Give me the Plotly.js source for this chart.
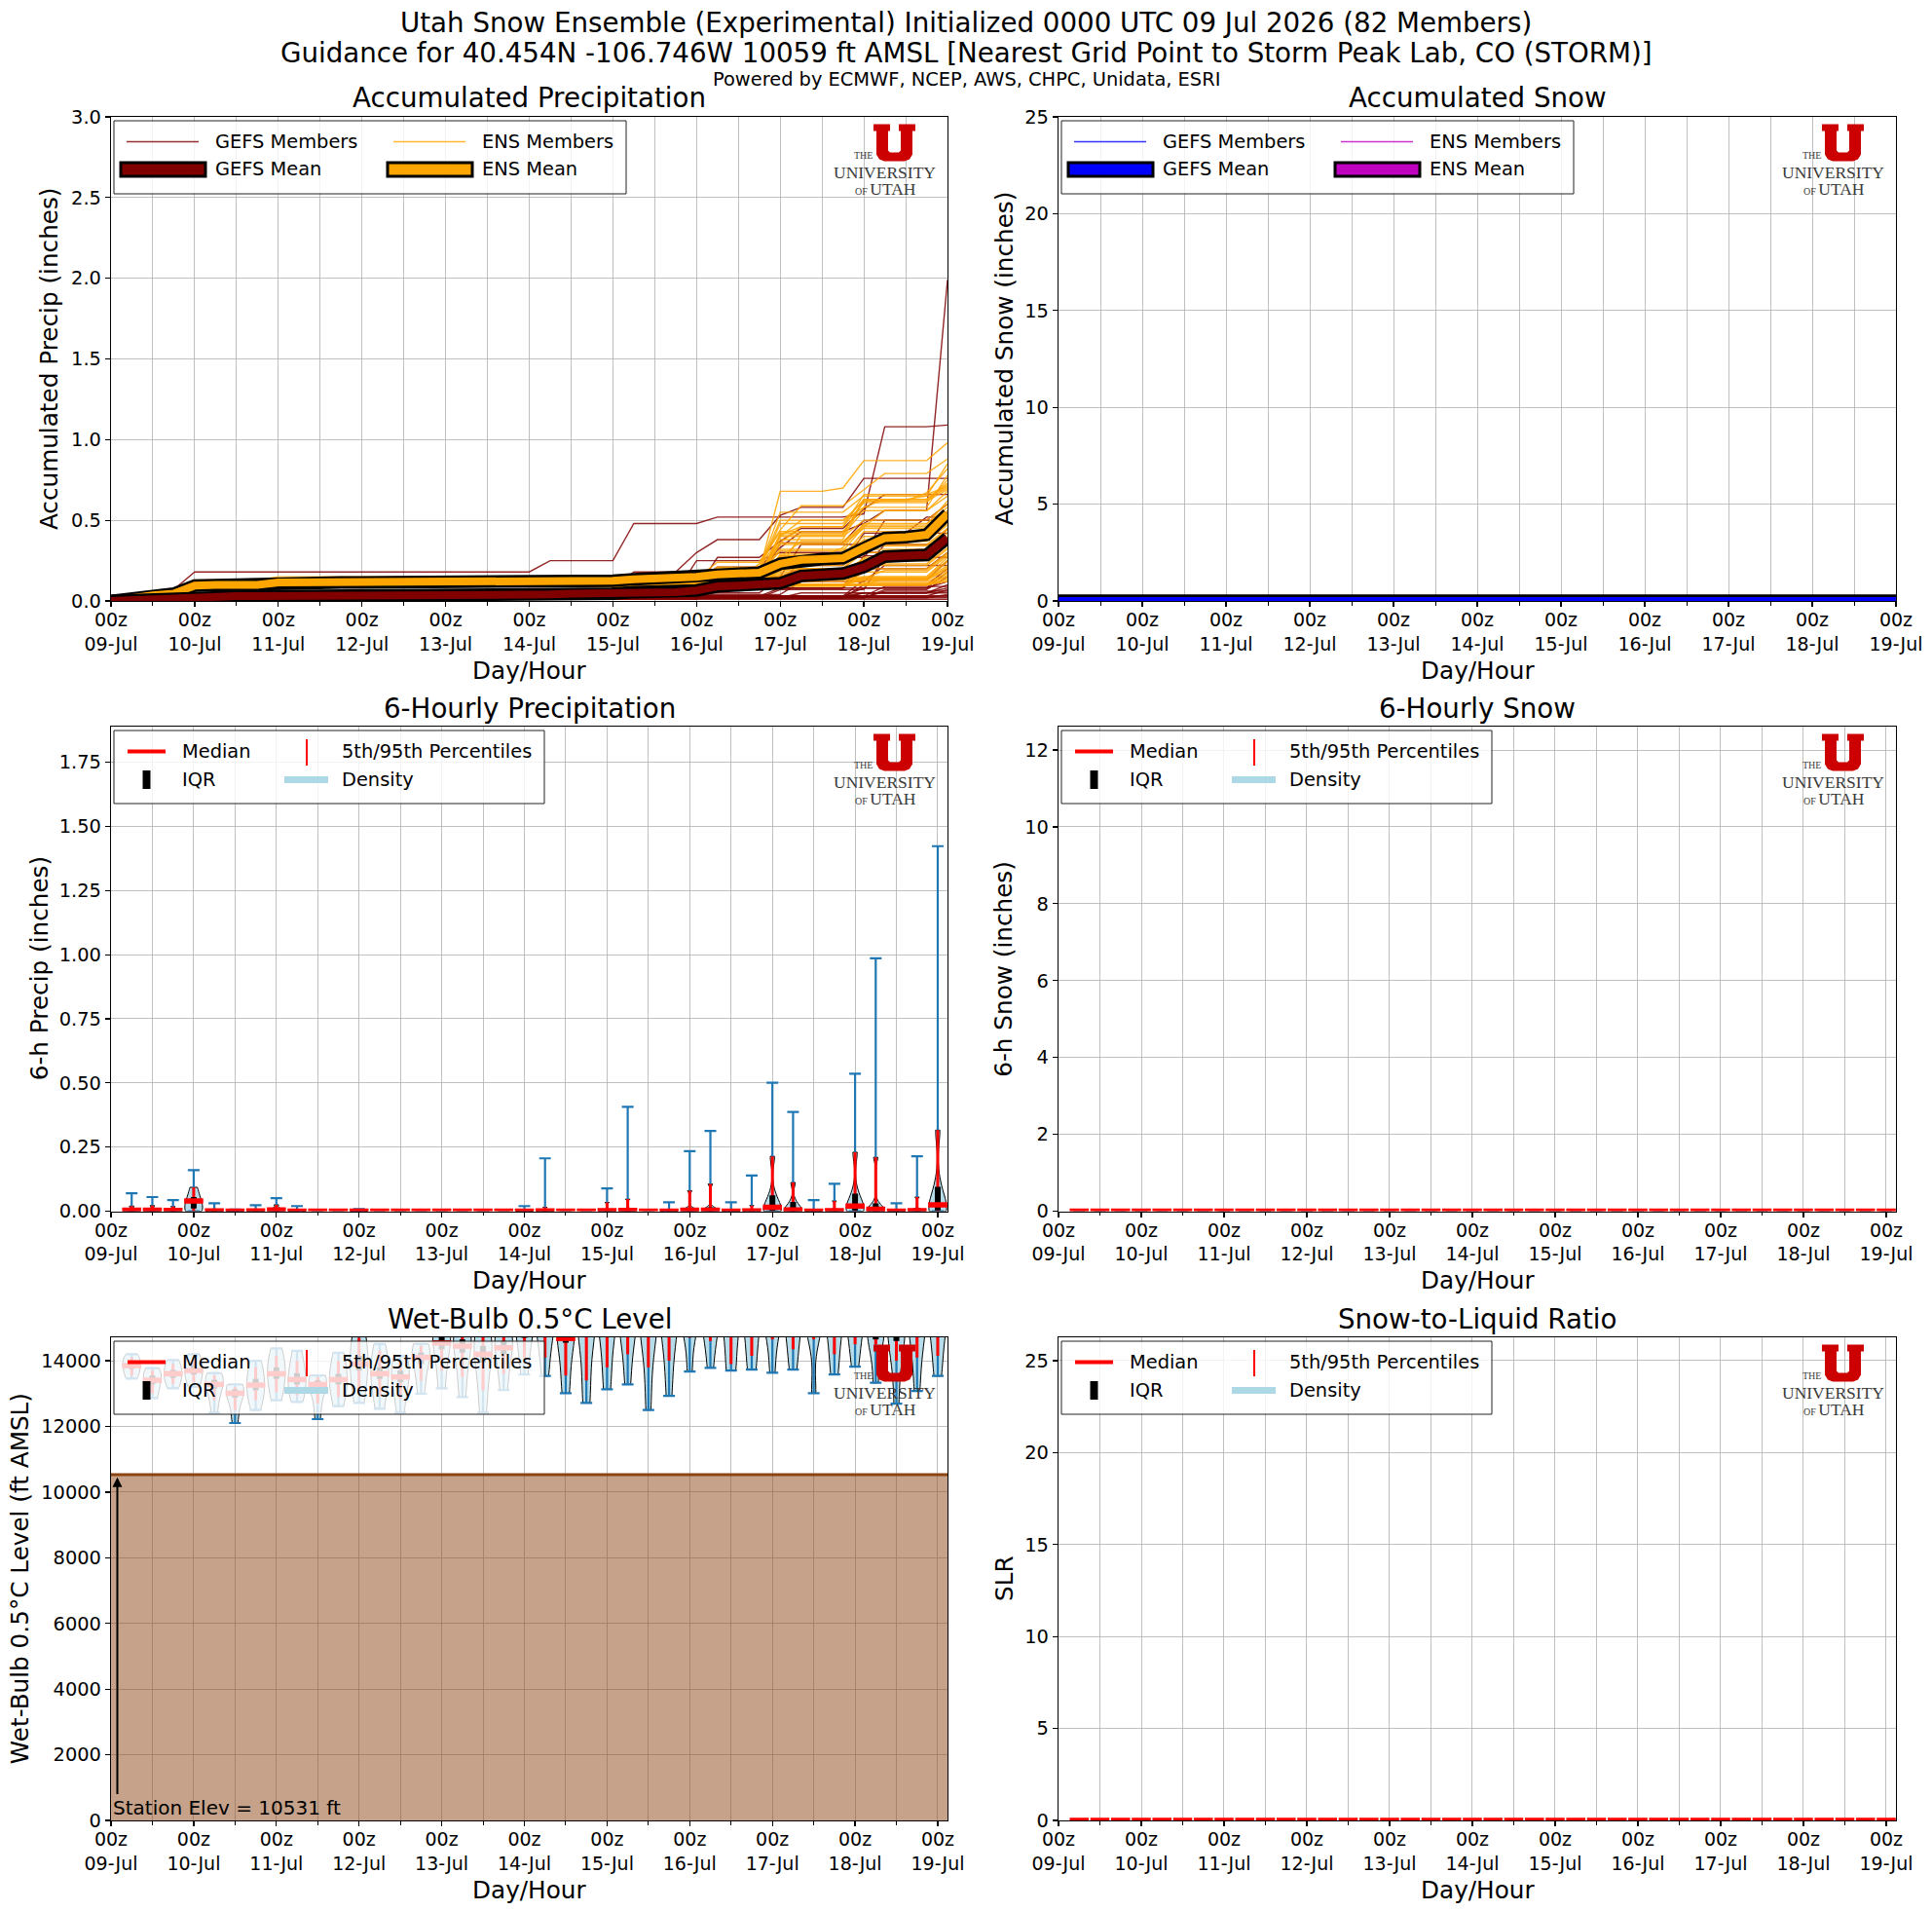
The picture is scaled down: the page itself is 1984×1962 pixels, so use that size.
<!DOCTYPE html>
<html><head><meta charset="utf-8">
<script src="https://cdn.plot.ly/plotly-3.0.1.min.js"></script>
<style>html,body{margin:0;padding:0;background:#fff}#chart{width:1984px;height:1962px}</style>
</head><body><div id="chart"></div>
<script>
// ---------------- DATA ----------------
const validTimes = [
"2026-07-09 00:00","2026-07-09 06:00","2026-07-09 12:00","2026-07-09 18:00",
"2026-07-10 00:00","2026-07-10 06:00","2026-07-10 12:00","2026-07-10 18:00",
"2026-07-11 00:00","2026-07-11 06:00","2026-07-11 12:00","2026-07-11 18:00",
"2026-07-12 00:00","2026-07-12 06:00","2026-07-12 12:00","2026-07-12 18:00",
"2026-07-13 00:00","2026-07-13 06:00","2026-07-13 12:00","2026-07-13 18:00",
"2026-07-14 00:00","2026-07-14 06:00","2026-07-14 12:00","2026-07-14 18:00",
"2026-07-15 00:00","2026-07-15 06:00","2026-07-15 12:00","2026-07-15 18:00",
"2026-07-16 00:00","2026-07-16 06:00","2026-07-16 12:00","2026-07-16 18:00",
"2026-07-17 00:00","2026-07-17 06:00","2026-07-17 12:00","2026-07-17 18:00",
"2026-07-18 00:00","2026-07-18 06:00","2026-07-18 12:00","2026-07-18 18:00",
"2026-07-19 00:00"];
const sixHourTimes = validTimes.slice(1);
const xRangeAccum = ["2026-07-09 00:00","2026-07-19 00:00"];
const xRangeSix = ["2026-07-09 00:00","2026-07-19 02:50"];

// Accumulated precipitation means (inches)
const gefsMeanAccum = [0,0.005,0.01,0.015, 0.03,0.03,0.03,0.03, 0.03,0.03,0.03,0.03, 0.03,0.03,0.03,0.03,
  0.03,0.03,0.03,0.03, 0.03,0.04,0.045,0.045, 0.045,0.055,0.055,0.055, 0.065,0.09,0.095,0.1,
  0.11,0.155,0.165,0.17, 0.21,0.275,0.28,0.285, 0.39];
const ensMeanAccum = [0,0.02,0.035,0.045, 0.095,0.1,0.1,0.1, 0.115,0.115,0.115,0.115, 0.115,0.115,0.115,0.115,
  0.115,0.115,0.115,0.115, 0.115,0.12,0.125,0.125, 0.125,0.135,0.14,0.14, 0.15,0.165,0.17,0.175,
  0.23,0.255,0.26,0.265, 0.33,0.39,0.395,0.41, 0.54];

// Member 6-h increments: [time index, inches]
const gefsMemberIncrements = [
 [[1,.03],[2,.02],[3,.02],[4,.11],[21,.07],[25,.23],[29,.04],[36,.02],[37,.54],[40,.01]],
 [[4,.03],[28,.1],[29,.08],[32,.12],[33,.1],[36,.05],[37,.08],[40,1.43]],
 [[3,.02],[24,.06],[25,.1],[28,.12],[29,.08],[32,.15],[33,.05],[36,.18]],
 [[4,.02],[25,.05],[29,.2],[32,.1],[33,.08],[36,.12],[37,.09]],
 [[4,.04],[21,.02],[28,.05],[32,.25],[36,.14],[40,.1]],
 [[4,.03],[29,.12],[33,.2],[37,.05],[40,.15]],
 [[4,.02],[25,.08],[32,.12],[36,.2],[39,.1]],
 [[4,.05],[28,.2],[32,.05],[37,.2]],
 [[3,.01],[29,.1],[33,.14],[36,.05],[40,.15]],
 [[4,.03],[25,.04],[32,.2],[37,.15]],
 [[4,.02],[28,.06],[36,.2],[40,.1]],
 [[4,.05],[32,.1],[33,.05],[37,.15]],
 [[4,.03],[29,.05],[36,.12],[40,.1]],
 [[4,.02],[32,.05],[37,.2]],
 [[4,.03],[36,.1],[40,.12]],
 [[4,.04],[33,.08],[37,.1]],
 [[4,.02],[36,.08],[40,.1]],
 [[4,.03],[32,.05],[40,.1]],
 [[4,.02],[37,.05],[40,.08]],
 [[4,.03],[36,.05],[40,.04]],
 [[4,.02],[33,.03],[40,.05]],
 [[4,.03],[37,.06]],
 [[4,.02],[36,.03],[40,.03]],
 [[4,.03],[40,.04]],
 [[4,.02],[37,.04]],
 [[4,.03],[36,.02]],
 [[4,.02],[40,.02]],
 [[4,.03]],
 [[3,.01],[4,.02]],
 [[4,.02]],
 [[4,.01]]
];
const ensMemberIncrements = [
 [[1,.03],[3,.03],[4,.07],[8,.02],[25,.01],[28,.02],[32,.5],[35,.02],[36,.17],[40,.11]],
 [[1,.02],[4,.08],[8,.02],[24,.02],[29,.1],[32,.2],[33,.15],[36,.1],[37,.1],[40,.09]],
 [[2,.02],[4,.09],[8,.01],[25,.03],[31,.05],[32,.35],[36,.1],[40,.2]],
 [[1,.03],[4,.06],[8,.02],[28,.04],[32,.25],[33,.1],[36,.12],[39,.05],[40,.15]],
 [[1,.02],[4,.08],[21,.02],[29,.08],[32,.3],[36,.08],[40,.2]],
 [[1,.03],[4,.07],[8,.01],[25,.05],[32,.2],[33,.1],[36,.15],[40,.14]],
 [[2,.03],[4,.07],[28,.03],[31,.1],[32,.2],[36,.15],[37,.05],[40,.1]],
 [[1,.02],[4,.09],[8,.02],[29,.05],[32,.3],[36,.15],[40,.09]],
 [[1,.03],[4,.08],[24,.02],[32,.28],[33,.05],[36,.2],[40,.05]],
 [[2,.02],[4,.08],[8,.01],[28,.05],[32,.22],[36,.25],[40,.07]],
 [[1,.02],[4,.07],[8,.02],[31,.05],[32,.25],[36,.22],[39,.02],[40,.05]],
 [[1,.03],[4,.06],[25,.03],[32,.3],[36,.2],[40,.07]],
 [[4,.09],[8,.02],[29,.1],[33,.2],[36,.15],[40,.12]],
 [[1,.02],[4,.08],[28,.06],[32,.2],[36,.1],[37,.1],[40,.09]],
 [[1,.03],[4,.07],[8,.02],[32,.15],[33,.1],[36,.1],[40,.15]],
 [[2,.02],[4,.08],[21,.03],[29,.07],[32,.2],[36,.1],[40,.1]],
 [[1,.02],[4,.07],[8,.01],[32,.18],[35,.05],[36,.15],[40,.1]],
 [[1,.03],[4,.06],[25,.02],[31,.05],[32,.15],[36,.15],[40,.1]],
 [[4,.09],[8,.02],[28,.04],[32,.2],[36,.1],[40,.1]],
 [[1,.02],[4,.08],[32,.13],[33,.05],[36,.15],[40,.1]],
 [[1,.03],[4,.07],[8,.02],[29,.05],[32,.15],[37,.1],[40,.1]],
 [[2,.02],[4,.07],[32,.2],[36,.11],[40,.1]],
 [[1,.02],[4,.08],[8,.01],[31,.05],[32,.12],[36,.1],[40,.1]],
 [[1,.03],[4,.06],[28,.03],[32,.15],[36,.1],[40,.1]],
 [[4,.09],[8,.02],[32,.14],[36,.1],[40,.1]],
 [[1,.02],[4,.08],[33,.1],[36,.14],[40,.1]],
 [[1,.03],[4,.07],[32,.12],[36,.1],[40,.1]],
 [[2,.02],[4,.07],[8,.01],[32,.1],[36,.1],[40,.1]],
 [[1,.02],[4,.08],[29,.05],[36,.12],[40,.12]],
 [[1,.03],[4,.06],[32,.1],[37,.08],[40,.1]],
 [[4,.09],[8,.01],[32,.08],[36,.08],[40,.1]],
 [[1,.02],[4,.08],[32,.1],[36,.05],[40,.1]],
 [[1,.03],[4,.07],[33,.08],[36,.05],[40,.1]],
 [[2,.02],[4,.07],[32,.08],[36,.05],[40,.1]],
 [[1,.02],[4,.08],[32,.06],[36,.04],[40,.1]],
 [[1,.03],[4,.06],[32,.05],[37,.05],[40,.1]],
 [[4,.09],[8,.01],[36,.08],[40,.1]],
 [[1,.02],[4,.08],[32,.05],[40,.12]],
 [[1,.03],[4,.07],[36,.05],[40,.1]],
 [[2,.02],[4,.07],[32,.05],[40,.1]],
 [[1,.02],[4,.08],[36,.04],[40,.08]],
 [[1,.03],[4,.06],[32,.04],[40,.08]],
 [[4,.09],[8,.01],[37,.04],[40,.06]],
 [[1,.02],[4,.08],[36,.03],[40,.06]],
 [[1,.03],[4,.07],[40,.08]],
 [[2,.02],[4,.07],[32,.03],[40,.05]],
 [[1,.02],[4,.08],[40,.06]],
 [[1,.03],[4,.06],[36,.02],[40,.04]],
 [[4,.09],[8,.01],[40,.04]],
 [[1,.02],[4,.08],[40,.03]],
 [[1,.03],[4,.07],[40,.02]]
];

// Accumulated snow (all zero)
const snowAccumGefs = [0,0,0,0,0,0,0,0,0,0,0,0,0,0,0,0,0,0,0,0,0,0,0,0,0,0,0,0,0,0,0,0,0,0,0,0,0,0,0,0,0];
const snowAccumEns  = [0,0,0,0,0,0,0,0,0,0,0,0,0,0,0,0,0,0,0,0,0,0,0,0,0,0,0,0,0,0,0,0,0,0,0,0,0,0,0,0,0];

// 6-hourly precipitation statistics (inches), 06z 09-Jul ... 00z 19-Jul
const precip6Max = [0.070,0.055,0.043,0.160, 0.031,0.006,0.023,0.051, 0.020,0.003,0.002,0.008, 0,0,0,0, 0,0,0,0.020,
  0.206,0.002,0.001,0.089, 0.407,0.002,0.035,0.234, 0.313,0.035,0.139,0.501, 0.387,0.043,0.107,0.536, 0.986,0.031,0.214,1.423];
const precip6P95 = [0.020,0.022,0.018,0.093, 0.008,0.002,0.006,0.025, 0.004,0,0,0.001, 0,0,0,0, 0,0,0,0.003,
  0.015,0,0,0.034, 0.047,0,0.004,0.080, 0.106,0.004,0.022,0.214, 0.112,0.006,0.040,0.230, 0.210,0.004,0.055,0.316];
const precip6Q75 = [0.008,0.008,0.006,0.055, 0.002,0,0.002,0.010, 0.001,0,0,0, 0,0,0,0, 0,0,0,0,
  0.003,0,0,0.004, 0.008,0,0.001,0.012, 0.015,0.001,0.003,0.062, 0.036,0.001,0.006,0.068, 0.030,0.001,0.008,0.095];
const precip6Median = [0.004,0.004,0.003,0.040, 0.001,0,0.001,0.005, 0,0,0,0, 0,0,0,0, 0,0,0,0,
  0.001,0,0,0.002, 0.003,0,0,0.004, 0.004,0,0.001,0.015, 0.005,0,0.002,0.020, 0.008,0,0.002,0.025];
const precip6Q25 = [0,0,0,0.010, 0,0,0,0, 0,0,0,0, 0,0,0,0, 0,0,0,0,
  0,0,0,0, 0,0,0,0, 0,0,0,0.002, 0,0,0,0.003, 0,0,0,0.003];
const precip6P5 = [0,0,0,0,0,0,0,0,0,0,0,0,0,0,0,0,0,0,0,0,0,0,0,0,0,0,0,0,0,0,0,0,0,0,0,0,0,0,0,0];
const precip6Min = [0,0,0,0,0,0,0,0,0,0,0,0,0,0,0,0,0,0,0,0,0,0,0,0,0,0,0,0,0,0,0,0,0,0,0,0,0,0,0,0];

// 6-hourly snow and SLR (all members zero)
const snow6Median = [0,0,0,0,0,0,0,0,0,0,0,0,0,0,0,0,0,0,0,0,0,0,0,0,0,0,0,0,0,0,0,0,0,0,0,0,0,0,0,0];
const slrMedian   = [0,0,0,0,0,0,0,0,0,0,0,0,0,0,0,0,0,0,0,0,0,0,0,0,0,0,0,0,0,0,0,0,0,0,0,0,0,0,0,0];

// Wet-bulb 0.5C level (ft AMSL)
const wbMin = [13457,12864,13160,13210,12420,12104,12499,12795,12746,12222,12617,12716,12538,12420,12993,13160,12894,12420,13111,13585,
  13536,13012,12716,13131,13279,12499,12933,13674,13783,13704,13733,13635,13733,13012,13585,13822,13328,12696,13081,13536];
const wbP5  = [13550,13000,13300,13350,12800,12500,12800,13050,12950,12700,12900,13100,12950,12850,13400,13700,13500,13100,13600,14100,
  14100,13550,13400,13800,14198,13800,14000,14700,14600,13900,14150,14650,14350,14650,14200,14500,14500,14000,14100,14150];
const wbQ25 = [13750,13280,13480,13580,13150,12880,13100,13450,13280,13150,13280,13700,13450,13350,13900,14350,14250,13950,14200,14700,
  14750,14550,14800,14850,14900,14850,14900,15100,15050,14900,14950,15100,15000,15050,14950,15000,14650,14600,14850,14900];
const wbMedian = [13852,13407,13605,13704,13279,13012,13259,13605,13427,13279,13427,13901,13605,13506,14099,14543,14444,14198,14395,14900,
  14950,14680,15000,15100,15150,15100,15200,15350,15300,15200,15250,15350,15300,15300,15250,15300,15000,14900,15150,15200];
const wbQ75 = [13950,13550,13720,13850,13420,13130,13450,13800,13620,13400,13600,14150,13800,13700,14250,14750,14650,14450,14600,15150,
  15200,14900,15250,15350,15400,15350,15450,15600,15550,15450,15500,15600,15550,15550,15500,15550,15300,15200,15400,15450];
const wbP95 = [14100,13700,13900,14050,13550,13200,13800,14150,14000,13500,14000,14700,14300,14000,14450,15000,14950,14800,14900,15400,
  15500,15300,15600,15700,15750,15700,15800,15900,15900,15800,15850,15950,15900,15900,15850,15900,15700,15600,15750,15800];
const wbMax = [14200,13773,14020,14198,13625,13279,14000,14375,14300,13555,14247,15000,14514,14148,14514,15200,15100,15000,15100,15600,
  15700,15500,15900,16000,16000,16000,16100,16200,16200,16100,16100,16300,16200,16200,16100,16200,16000,15900,16000,16100];
const stationElevationFt = 10531;

// ---------------- HELPERS ----------------
const W = 1984, H = 1962;
const px = x => x / W;
const py = y => 1 - y / H;
const FONT = 'DejaVu Sans';
const SERIF = 'Liberation Serif';
const panels = [
  {ax:'',  l:114,  r:973,  t:120,  b:617},
  {ax:'2', l:1087, r:1947, t:120,  b:617},
  {ax:'3', l:114,  r:973,  t:746,  b:1243.5},
  {ax:'4', l:1087, r:1947, t:746,  b:1243.5},
  {ax:'5', l:114,  r:973,  t:1373, b:1869},
  {ax:'6', l:1087, r:1947, t:1373, b:1869}
];
const traces = [], shapes = [], annotations = [];
const SIX_H_MS = 6 * 3600 * 1000;
const violinWidthMs = 0.86 * SIX_H_MS;

function accumulate(events) {
  const out = []; let total = 0;
  for (let i = 0; i < validTimes.length; i++) {
    for (const [idx, amt] of events) if (idx === i) total += amt;
    out.push(Math.round(total * 1000) / 1000);
  }
  return out;
}
function memberTrace(members, color, ax) {
  const xs = [], ys = [];
  members.forEach(ev => {
    accumulate(ev).forEach((v, i) => { xs.push(validTimes[i]); ys.push(v); });
    xs.push(null); ys.push(null);
  });
  return {type:'scatter', mode:'lines', x:xs, y:ys, xaxis:'x'+ax, yaxis:'y'+ax,
    line:{color, width:1.4}, connectgaps:false, hoverinfo:'skip', showlegend:false};
}
function lineTrace(vals, color, width, ax) {
  return {type:'scatter', mode:'lines', x:validTimes, y:vals, xaxis:'x'+ax, yaxis:'y'+ax,
    line:{color, width}, hoverinfo:'skip', showlegend:false};
}
function errTrace(ax, base, len, color, thick, capw) {
  return {type:'scatter', mode:'markers', x:sixHourTimes, y:base, xaxis:'x'+ax, yaxis:'y'+ax,
    marker:{size:2, opacity:0},
    error_y:{type:'data', symmetric:false, array:len, arrayminus:len.map(() => 0),
      color, thickness:thick, width:capw},
    hoverinfo:'skip', showlegend:false};
}
function violinPanel(ax, q, includeMax) {
  for (let k = 0; k < sixHourTimes.length; k++) {
    const s = [q.min[k], q.p5[k], q.q25[k], q.med[k], q.q75[k], q.p95[k]];
    if (includeMax) s.push(q.max[k]);
    if (Math.max(...s) === Math.min(...s)) continue;
    traces.push({type:'violin', x:s.map(() => sixHourTimes[k]), y:s, xaxis:'x'+ax, yaxis:'y'+ax,
      width:violinWidthMs, scalemode:'width', spanmode:'hard', points:false,
      box:{visible:false}, meanline:{visible:false},
      fillcolor:'rgba(173,216,230,0.9)', line:{color:'#000', width:1},
      hoverinfo:'skip', showlegend:false});
  }
  traces.push(errTrace(ax, q.min, q.max.map((v,k) => v - q.min[k]), '#1f77b4', 2.2, 6));
  traces.push(errTrace(ax, q.p5, q.p95.map((v,k) => v - q.p5[k]), '#ff0000', 3, 0));
  traces.push(errTrace(ax, q.q25, q.q75.map((v,k) => v - q.q25[k]), '#000000', 6, 0));
  traces.push({type:'scatter', mode:'markers', x:sixHourTimes, y:q.med, xaxis:'x'+ax, yaxis:'y'+ax,
    marker:{symbol:'line-ew', size:14, color:'#ff0000', line:{color:'#ff0000', width:5.5}},
    hoverinfo:'skip', showlegend:false});
}
function text(x, y, t, size, opts) {
  annotations.push(Object.assign({xref:'paper', yref:'paper', x:px(x), y:py(y), text:t, showarrow:false,
    xanchor:'left', yanchor:'middle', font:{size, color:'#000', family:FONT}}, opts || {}));
}
function rect(x0, y0, x1, y1, lineColor, lineW, fill) {
  shapes.push({type:'rect', xref:'paper', yref:'paper', x0:px(x0), x1:px(x1), y0:py(y1), y1:py(y0),
    line:{color:lineColor, width:lineW}, fillcolor:fill, layer:'above'});
}
function seg(x0, y0, x1, y1, color, width) {
  shapes.push({type:'line', xref:'paper', yref:'paper', x0:px(x0), x1:px(x1), y0:py(y0), y1:py(y1),
    line:{color, width}, layer:'above'});
}
function accumLegend(p, labels, memberColors, meanColors) {
  rect(p.l+3, p.t+4, p.l+529, p.t+79, '#222', 1, 'rgba(255,255,255,0.8)');
  [0, 274].forEach((off, c) => {
    seg(p.l+16+off, p.t+25.5, p.l+90+off, p.t+25.5, memberColors[c], 1.6);
    text(p.l+105+off, p.t+25.5, labels[c], 19.4);
    rect(p.l+10+off, p.t+47, p.l+97+off, p.t+61, '#000', 3, meanColors[c]);
    text(p.l+105+off, p.t+54, labels[c+2], 19.4);
  });
}
function violinLegend(p) {
  rect(p.l+3, p.t+4, p.l+445, p.t+79, '#222', 1, 'rgba(255,255,255,0.8)');
  seg(p.l+17, p.t+25.5, p.l+56, p.t+25.5, '#ff0000', 4);
  text(p.l+71, p.t+25.5, 'Median', 19.4);
  seg(p.l+201, p.t+13, p.l+201, p.t+40, '#ff0000', 2);
  text(p.l+235, p.t+25.5, '5th/95th Percentiles', 19.4);
  rect(p.l+32.5, p.t+45, p.l+40.5, p.t+64, '#000', 0, '#000');
  text(p.l+71, p.t+54.5, 'IQR', 19.4);
  seg(p.l+178, p.t+54.5, p.l+223, p.t+54.5, '#add8e6', 7);
  text(p.l+235, p.t+54.5, 'Density', 19.4);
}
function addLogo(p) {
  const x0 = p.r - 76, y0 = p.t + 7.6;
  const pts = [[0,0],[17,0],[17,7],[15,7],[15,27],[17,29],[26,29],[28,27],[28,7],[26,7],[26,0],[43,0],[43,7],
    [40,7],[40,31],[37,36],[32,38],[11,38],[6,36],[3,31],[3,7],[0,7]];
  const path = 'M ' + pts.map(([dx,dy]) => px(x0+dx).toFixed(6) + ',' + py(y0+dy).toFixed(6)).join(' L ') + ' Z';
  shapes.push({type:'path', xref:'paper', yref:'paper', path, fillcolor:'#cc0000', line:{width:0}, layer:'above'});
  const f = (s) => ({size:s, color:'#3a3a3a', family:SERIF});
  text(p.r-86.5, p.t+39.5, 'THE', 10, {xanchor:'center', font:f(10), borderpad:0});
  text(p.r-65, p.t+57, 'UNIVERSITY', 17.5, {xanchor:'center', font:f(17.5), borderpad:0});
  text(p.r-64, p.t+74, '<span style="font-size:10px">OF </span>UTAH', 17.5, {xanchor:'center', font:f(17.5), borderpad:0});
}

// ---------------- TRACES ----------------
traces.push(memberTrace(gefsMemberIncrements, 'rgba(128,0,0,0.85)', ''));
traces.push(memberTrace(ensMemberIncrements, 'rgba(255,165,0,0.85)', ''));
traces.push(lineTrace(ensMeanAccum, '#000', 13, ''));
traces.push(lineTrace(ensMeanAccum, '#ffa500', 8, ''));
traces.push(lineTrace(gefsMeanAccum, '#000', 13, ''));
traces.push(lineTrace(gefsMeanAccum, '#800000', 8, ''));
traces.push(lineTrace(snowAccumGefs, 'rgba(0,0,255,0.8)', 1.4, '2'));
traces.push(lineTrace(snowAccumEns, 'rgba(191,0,191,0.8)', 1.4, '2'));
traces.push(lineTrace(snowAccumEns, '#000', 13, '2'));
traces.push(lineTrace(snowAccumEns, '#bf00bf', 8, '2'));
traces.push(lineTrace(snowAccumGefs, '#000', 13, '2'));
traces.push(lineTrace(snowAccumGefs, '#0000ff', 8, '2'));
violinPanel('3', {min:precip6Min, p5:precip6P5, q25:precip6Q25, med:precip6Median, q75:precip6Q75, p95:precip6P95, max:precip6Max}, false);
violinPanel('4', {min:snow6Median, p5:snow6Median, q25:snow6Median, med:snow6Median, q75:snow6Median, p95:snow6Median, max:snow6Median}, false);
traces.push({type:'scatter', mode:'lines', x:xRangeSix, y:[stationElevationFt, stationElevationFt], xaxis:'x5', yaxis:'y5',
  fill:'tozeroy', fillcolor:'rgba(139,69,19,0.5)', line:{color:'#8b4513', width:3}, hoverinfo:'skip', showlegend:false});
violinPanel('5', {min:wbMin, p5:wbP5, q25:wbQ25, med:wbMedian, q75:wbQ75, p95:wbP95, max:wbMax}, true);
violinPanel('6', {min:slrMedian, p5:slrMedian, q25:slrMedian, med:slrMedian, q75:slrMedian, p95:slrMedian, max:slrMedian}, false);

// ---------------- LAYOUT ----------------
function xAxis(p, range) {
  return {domain:[px(p.l), px(p.r)], anchor:'y'+p.ax, type:'date', range,
    tick0:'2026-07-09', dtick:86400000, tickformat:'%Hz<br>%d-%b',
    ticks:'outside', ticklen:5, tickwidth:1.2, tickcolor:'#000', ticklabelstandoff:-3,
    showline:true, linecolor:'#000', linewidth:1.2, mirror:true,
    showgrid:true, gridcolor:'#b0b0b0', gridwidth:0.8, zeroline:false,
    tickfont:{size:19, color:'#000', family:FONT},
    minor:{dtick:43200000, tick0:'2026-07-09', ticks:'outside', ticklen:3.5, tickwidth:1, tickcolor:'#000',
      showgrid:true, gridcolor:'#b0b0b0', gridwidth:0.8},
    fixedrange:true};
}
function yAxis(p, range, dtick, fmt) {
  return {domain:[py(p.b), py(p.t)], anchor:'x'+p.ax, range, tick0:0, dtick, tickformat:fmt,
    ticks:'outside', ticklen:5, tickwidth:1.2, tickcolor:'#000',
    showline:true, linecolor:'#000', linewidth:1.2, mirror:true,
    showgrid:true, gridcolor:'#b0b0b0', gridwidth:0.8, zeroline:false,
    tickfont:{size:19.4, color:'#000', family:FONT}, fixedrange:true};
}
const layout = {
  width:W, height:H, margin:{l:0, r:0, t:0, b:0},
  paper_bgcolor:'#fff', plot_bgcolor:'#fff', showlegend:false,
  font:{family:FONT, color:'#000'},
  violinmode:'overlay', violingap:0,
  xaxis:xAxis(panels[0], xRangeAccum),  yaxis:yAxis(panels[0], [0, 3], 0.5, '.1f'),
  xaxis2:xAxis(panels[1], xRangeAccum), yaxis2:yAxis(panels[1], [0, 25], 5, 'd'),
  xaxis3:xAxis(panels[2], xRangeSix),   yaxis3:yAxis(panels[2], [0, 1.889], 0.25, '.2f'),
  xaxis4:xAxis(panels[3], xRangeSix),   yaxis4:yAxis(panels[3], [0, 12.61], 2, 'd'),
  xaxis5:xAxis(panels[4], xRangeSix),   yaxis5:yAxis(panels[4], [0, 14714], 2000, 'd'),
  xaxis6:xAxis(panels[5], xRangeSix),   yaxis6:yAxis(panels[5], [0, 26.27], 5, 'd'),
  shapes, annotations
};

text(992, 23, 'Utah Snow Ensemble (Experimental) Initialized 0000 UTC 09 Jul 2026 (82 Members)', 27.7, {xanchor:'center'});
text(992, 54.5, 'Guidance for 40.454N -106.746W 10059 ft AMSL [Nearest Grid Point to Storm Peak Lab, CO (STORM)]', 27.7, {xanchor:'center'});
text(992, 82, 'Powered by ECMWF, NCEP, AWS, CHPC, Unidata, ESRI', 19.4, {xanchor:'center'});
const panelTitles = ['Accumulated Precipitation','Accumulated Snow','6-Hourly Precipitation','6-Hourly Snow','Wet-Bulb 0.5°C Level','Snow-to-Liquid Ratio'];
const yTitles = ['Accumulated Precip (inches)','Accumulated Snow (inches)','6-h Precip (inches)','6-h Snow (inches)','Wet-Bulb 0.5°C Level (ft AMSL)','SLR'];
const yTitleX = [50.6, 1031, 40.5, 1031, 20.2, 1031];
panels.forEach((p, i) => {
  text((p.l+p.r)/2, p.t-19, panelTitles[i], 27.7, {xanchor:'center'});
  text((p.l+p.r)/2, p.b+71, 'Day/Hour', 24.7, {xanchor:'center'});
  text(yTitleX[i], (p.t+p.b)/2, yTitles[i], 24.7, {xanchor:'center', textangle:-90});
});

accumLegend(panels[0], ['GEFS Members','ENS Members','GEFS Mean','ENS Mean'], ['rgba(128,0,0,0.8)','rgba(255,165,0,0.8)'], ['#800000','#ffa500']);
accumLegend(panels[1], ['GEFS Members','ENS Members','GEFS Mean','ENS Mean'], ['rgba(0,0,255,0.8)','rgba(191,0,191,0.8)'], ['#0000ff','#bf00bf']);
[2,3,4,5].forEach(i => violinLegend(panels[i]));
panels.forEach(addLogo);

annotations.push({xref:'x5', yref:'y5', x:'2026-07-09 01:50', y:stationElevationFt - 80,
  ax:'2026-07-09 01:50', ay:753, axref:'x5', ayref:'y5', text:'', showarrow:true,
  arrowhead:2, arrowsize:1, arrowwidth:2, arrowcolor:'#000', standoff:0, startstandoff:0});
annotations.push({xref:'x5', yref:'y5', x:xRangeSix[0], y:385, xanchor:'left', yanchor:'middle', showarrow:false,
  text:'Station Elev = ' + stationElevationFt + ' ft', font:{size:20, color:'#000', family:FONT}});

Plotly.newPlot('chart', traces, layout, {staticPlot:true, displayModeBar:false});
</script></body></html>
